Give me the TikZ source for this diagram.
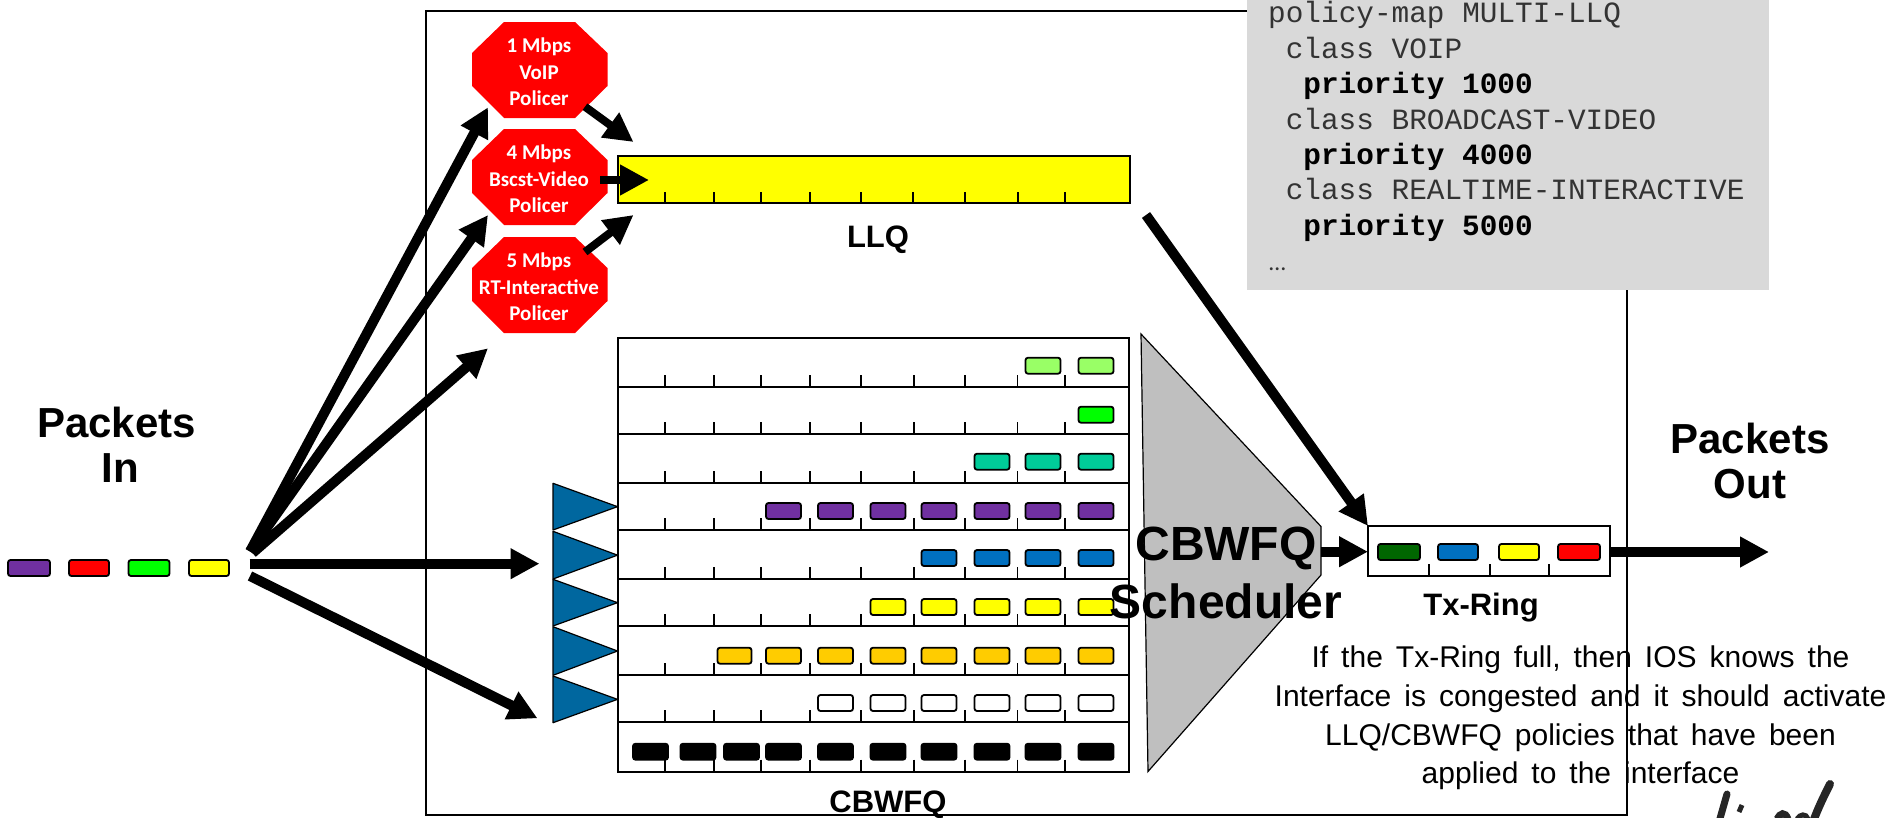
\documentclass[tikz,border=0pt]{standalone}
\usepackage{fontspec}
\setmainfont{Liberation Sans}
\setmonofont{Liberation Mono}
\newfontfamily\calibri{Carlito}
\usetikzlibrary{arrows.meta}
\definecolor{policered}{HTML}{FF0000}
\definecolor{pktlime}{HTML}{99FF66}
\definecolor{pktgreen}{HTML}{00FF00}
\definecolor{pktteal}{HTML}{00CC99}
\definecolor{pktpurple}{HTML}{7030A0}
\definecolor{pktblue}{HTML}{0070C0}
\definecolor{pktyellow}{HTML}{FFFF00}
\definecolor{pktgold}{HTML}{FFCC00}
\definecolor{pktdark}{HTML}{006600}
\definecolor{classifier}{HTML}{00679F}
\definecolor{schedgray}{HTML}{BFBFBF}
\definecolor{cfgbg}{HTML}{D9D9D9}

\begin{document}
\begin{tikzpicture}[
    x=1pt, y=-1pt,
    flow/.style={line width=10pt},
    thinflow/.style={line width=8pt},
    >={Triangle[length=29pt, width=29pt]},
    pkt/.style={draw=black, line width=1.8pt, rounded corners=2.5pt, minimum width=35pt, minimum height=16pt, inner sep=0pt},
    tick/.style={line width=1.4pt},
    policer/.style={align=center, text=white, inner sep=0pt, font=\calibri\bfseries\fontsize{21}{26.5}\selectfont},
    biglabel/.style={align=center, inner sep=0pt, font=\bfseries\fontsize{42}{45}\selectfont},
    qlabel/.style={inner sep=0pt, font=\bfseries\fontsize{31}{36}\selectfont},
    cfgline/.style={anchor=base west, inner sep=0pt, text=black!80, font=\ttfamily\fontsize{29.4}{35}\selectfont},
    cfgbold/.style={cfgline, text=black, font=\ttfamily\bfseries\fontsize{29.4}{35}\selectfont}
]
\useasboundingbox (0,0) rectangle (1893,817);

% 1. Router frame
\draw[line width=2pt] (426,10.5) rectangle (1627,815);

% 2. Config listing
\fill[cfgbg] (1247,0) rectangle (1769,289.5);
\node[cfgline] (cfgA) at (1268,22.5) {policy-map MULTI-LLQ};
\node[cfgline] (cfgB) at (1285.6,58) {class VOIP};
\node[cfgbold] (cfgC) at (1303.2,93) {priority 1000};
\node[cfgline] (cfgD) at (1285.6,129) {class BROADCAST-VIDEO};
\node[cfgbold] (cfgE) at (1303.2,164) {priority 4000};
\node[cfgline] (cfgF) at (1285.6,199) {class REALTIME-INTERACTIVE};
\node[cfgbold] (cfgG) at (1303.2,235) {priority 5000};
\node[cfgline, font=\calibri\fontsize{24}{30}\selectfont] (cfgH) at (1269,270) {…};

% 3. Policers
\foreach \top/\name/\txt in {22/polA/{1 Mbps\\VoIP\\Policer}, 129/polB/{4 Mbps\\Bscst-Video\\Policer}, 237/polC/{5 Mbps\\RT-Interactive\\Policer}} {
    \fill[policered] (504,\top) -- (575,\top) -- (607.5,\top+31) -- (607.5,\top+64)
        -- (575,\top+96) -- (504,\top+96) -- (472,\top+64) -- (472,\top+31) -- cycle;
    \node[policer] (\name) at (539,\top+50) {\txt};
}

% 4. LLQ queue
\draw[line width=2pt, fill=pktyellow] (618,155.5) rectangle (1129.5,203);
\foreach \x in {665,714,761,810,861,913,965,1018,1065} {
    \draw[tick] (\x,192) -- (\x,203);
}
\node[qlabel] (llqLabel) at (878,240) {LLQ};

% 5. CBWFQ queues
\draw[line width=2pt, fill=white] (617.5,338) rectangle (1129,771.5);
\foreach \y in {387.3,434.3,483.3,530,579,626,675.3,722.3,771.5} {
    \draw[line width=2pt] (617.5,\y) -- (1129,\y);
    \foreach \x in {665,714,761,810,861,914,965,1017.5,1065} {
        \draw[tick] (\x,\y-12) -- (\x,\y);
    }
}

% Packets per row: centre y / first column / colour
\foreach \y/\first/\col in {365.7/8/pktlime, 414.7/9/pktgreen, 461.7/7/pktteal, 511/3/pktpurple,
    558/6/pktblue, 607/5/pktyellow, 655.7/3/pktgold, 703/4/white, 751.7/0/black} {
    \foreach \c/\x in {0/650.5, 1/698, 2/741.5, 3/783.5, 4/835.5, 5/888, 6/939, 7/992, 8/1043, 9/1096} {
        \ifnum\c<\first\relax\else
            \node[pkt, fill=\col] (q\first-\c) at (\x,\y) {};
        \fi
    }
}
\node[pkt, fill=pktgold, minimum width=34pt] (qgold) at (734.5,655.7) {};
\node[qlabel] (cbwfqLabel) at (888,804.5) {CBWFQ};

% 6. Classifier triangles
\foreach \a/\b in {483.3/530, 531.3/579, 579.3/626, 626.7/675.3, 676/722.7} {
    \draw[fill=classifier, line width=1.2pt, line join=round] (553,\a) -- (617.5,{(\a+\b)/2}) -- (553,\b) -- cycle;
}

% 7. Scheduler
\draw[fill=schedgray, line width=1.2pt] (1141,334) -- (1321,526.5) -- (1321,575) -- (1148,771.5) -- cycle;

% 8. Tx-Ring
\draw[line width=2pt, fill=white] (1368,526) rectangle (1609.5,575.5);
\foreach \x in {1429,1490,1549} {
    \draw[tick] (\x,564) -- (\x,575.5);
}
\node[pkt, fill=pktdark, minimum width=42pt] (txA) at (1399,552) {};
\node[pkt, fill=pktblue, minimum width=40pt] (txB) at (1458,552) {};
\node[pkt, fill=pktyellow, minimum width=40pt] (txC) at (1519,552) {};
\node[pkt, fill=policered, minimum width=42pt] (txD) at (1579,552) {};
\node[qlabel] (txLabel) at (1481,608) {Tx-Ring};

% 9. Packets in
\node[pkt, fill=pktpurple, minimum width=42pt] (inA) at (29,568) {};
\node[pkt, fill=policered, minimum width=40pt] (inB) at (89,568) {};
\node[pkt, fill=pktgreen, minimum width=41pt] (inC) at (149,568) {};
\node[pkt, fill=pktyellow, minimum width=40pt] (inD) at (209,568) {};

% 10. Arrow ends
\coordinate (fanA) at (250,551.5);
\coordinate (fanB) at (250,551.5);
\coordinate (fanC) at (252.5,553);
\coordinate (fanD) at (249.5,563.7);
\coordinate (fanE) at (250,576);
\coordinate (tipA) at (488,107.3);
\coordinate (tipB) at (488,215);
\coordinate (tipC) at (488,348.3);
\coordinate (tipD) at (539.5,563.7);
\coordinate (tipE) at (537.5,718.3);
\coordinate (polOutA) at (585,106.7);
\coordinate (polOutB) at (600,180);
\coordinate (polOutC) at (585,252);
\coordinate (llqInA) at (633.5,142);
\coordinate (llqInB) at (649,180);
\coordinate (llqInC) at (633.5,215);
\coordinate (llqOut) at (1146,215);
\coordinate (txIn) at (1368,526);
\coordinate (schedOut) at (1321,551.7);
\coordinate (schedTx) at (1368,551.7);
\coordinate (txOut) at (1609.5,552);
\coordinate (wireEnd) at (1769,552);

\draw[->, flow] (fanA) -- (tipA);
\draw[->, flow] (fanB) -- (tipB);
\draw[->, flow] (fanC) -- (tipC);
\draw[->, flow] (fanD) -- (tipD);
\draw[->, flow] (fanE) -- (tipE);
\draw[->, thinflow] (polOutA) -- (llqInA);
\draw[->, thinflow] (polOutB) -- (llqInB);
\draw[->, thinflow] (polOutC) -- (llqInC);
\draw[->, flow] (llqOut) -- (txIn);
\draw[->, flow] (schedOut) -- (schedTx);
\draw[->, flow] (txOut) -- (wireEnd);

% 11. Big labels
\node[biglabel] (inLabel) at (116.5,444.5) {Packets\\\hspace{8pt}In};
\node[biglabel] (outLabel) at (1750,460.5) {Packets\\Out};
\node[align=center, inner sep=0pt, font=\bfseries\fontsize{48}{58}\selectfont] (schedLabel) at (1226,573) {CBWFQ\\Scheduler};
\node[align=center, inner sep=0pt, font=\fontsize{30}{38.7}\selectfont, execute at begin node={\spaceskip=13pt plus 1pt minus 1pt\relax}] (noteLabel) at (1580.5,718) {If the Tx-Ring full, then IOS knows the\\Interface is congested and it should activate\\LLQ/CBWFQ policies that have been\\applied to the interface};

% 12. Handwriting cut off at the lower edge
\draw[line width=7pt, line cap=round, black!85] (1727,794) -- (1719,822);
\draw[line width=5pt, black!85] (1742,805) -- (1739,812);
\draw[line width=7pt, black!85] (1777,819) .. controls (1780,813) and (1785,811) .. (1788,819);
\draw[line width=5pt, black!85] (1797,819) .. controls (1800,814) and (1806,813) .. (1808,819);
\draw[line width=8pt, line cap=round, black!85] (1830,784) .. controls (1824,796) and (1818,808) .. (1813,822);

\end{tikzpicture}
\end{document}
